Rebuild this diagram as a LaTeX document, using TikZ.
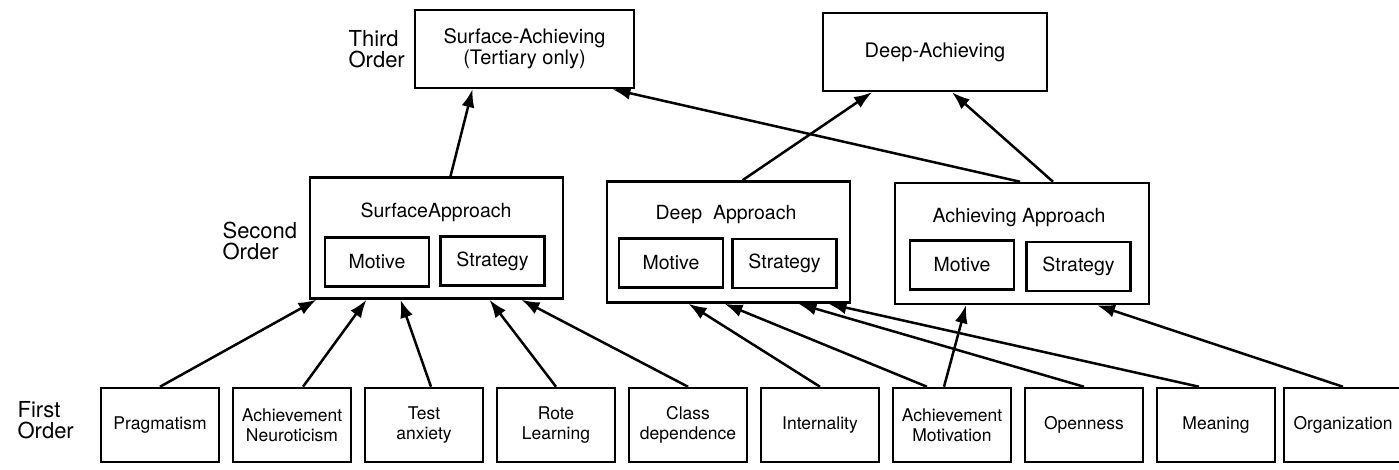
\documentclass[tikz,border=0pt]{standalone}
\usepackage{fontspec}
\setmainfont{TeX Gyre Heros}
\usetikzlibrary{arrows.meta}

\begin{document}
\begin{tikzpicture}[x=1pt, y=-1pt, line width=2.5pt, >={Latex[length=18pt,width=13pt]}, node distance=132pt, factor/.style={rectangle, draw, minimum width=118pt, minimum height=74pt, align=center, font=\fontsize{17.5}{20}\selectfont}, approach/.style={rectangle, draw, minimum height=121pt}, part/.style={rectangle, draw, minimum width=104pt, minimum height=49pt, font=\fontsize{19.5}{21}\selectfont}, apptitle/.style={font=\fontsize{19.5}{21}\selectfont}, higher/.style={rectangle, draw, minimum height=78pt, align=center, font=\fontsize{20}{21}\selectfont}, order/.style={anchor=west, align=left, font=\fontsize{22}{21}\selectfont}]

  \useasboundingbox (0,0) rectangle (1399,470);

  \node[order] (third) at (344,49) {Third\\Order};
  \node[higher, minimum width=219pt] (surfach) at (524.5,49) {Surface-Achieving\\(Tertiary only)};
  \node[higher, minimum width=224pt] (deepach) at (935,52) {Deep-Achieving};

  \node[order] (second) at (218,241) {Second\\Order};
  \node[approach, minimum width=253pt] (surfapp) at (436.5,238) {};
  \node[apptitle] (surftitle) at (436,212) {SurfaceApproach};
  \node[part] (surfmot) at (377,262) {Motive};
  \node[part] (surfstr) at (492.5,261) {Strategy};

  \node[approach, minimum width=243pt] (deepapp) at (728.5,242) {};
  \node[apptitle] (deeptitle) at (726,215) {Deep\ \ Approach};
  \node[part] (deepmot) at (671,263) {Motive};
  \node[part] (deepstr) at (784.5,263.5) {Strategy};

  \node[approach, minimum width=254pt] (achapp) at (1022,243.5) {};
  \node[apptitle] (achtitle) at (1019,218) {Achieving Approach};
  \node[part] (achmot) at (962,265) {Motive};
  \node[part] (achstr) at (1078.5,266.5) {Strategy};

  \node[order] (first) at (13,420) {First\\Order};
  \node[factor] (prag) at (160,425) {Pragmatism};
  \node[factor, right of=prag] (neur) {Achievement\\Neuroticism};
  \node[factor, right of=neur] (anx) {Test\\anxiety};
  \node[factor, right of=anx] (rote) {Rote\\Learning};
  \node[factor, right of=rote] (cdep) {Class\\dependence};
  \node[factor, right of=cdep] (intern) {Internality};
  \node[factor, right of=intern] (amot) {Achievement\\Motivation};
  \node[factor, right of=amot] (open) {Openness};
  \node[factor, right of=open] (mean) {Meaning};
  \node[factor, right of=mean, node distance=127pt] (org) {Organization};

  \draw[->] (prag.north) -- ([xshift=-120pt]surfapp.south);
  \draw[->] ([xshift=11pt]neur.north) -- ([xshift=-70pt]surfapp.south);
  \draw[->] ([xshift=7pt]anx.north) -- ([xshift=-36pt]surfapp.south);
  \draw[->] (rote.north) -- ([xshift=53pt]surfapp.south);
  \draw[->] (cdep.north) -- ([xshift=85pt]surfapp.south);
  \draw[->] (intern.north) -- ([xshift=-40pt]deepapp.south);
  \draw[->] ([xshift=-25pt]amot.north) -- ([xshift=-4pt]deepapp.south);
  \draw[->] ([xshift=-8pt]amot.north) -- ([xshift=-56pt]achapp.south);
  \draw[->] (open.north) -- ([xshift=70pt]deepapp.south);
  \draw[->] ([xshift=-17pt]mean.north) -- ([xshift=100pt]deepapp.south);
  \draw[->] (org.north) -- ([xshift=75pt]achapp.south);

  \draw[->] ([xshift=14pt]surfapp.north) -- ([xshift=-52pt]surfach.south);
  \draw[->] ([xshift=14pt]deepapp.north) -- ([xshift=-63pt]deepach.south);
  \draw[->] ([xshift=31pt]achapp.north) -- ([xshift=17pt]deepach.south);
  \draw[->] ([xshift=-2pt]achapp.north) -- ([xshift=88pt]surfach.south);
\end{tikzpicture}
\end{document}
